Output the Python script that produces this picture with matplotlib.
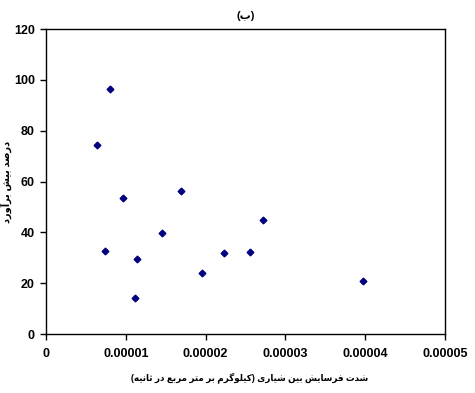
import matplotlib
matplotlib.use("Agg")
import matplotlib.pyplot as plt

# data
x_rate = [0.64e-5, 0.80e-5, 0.743e-5, 0.969e-5, 1.136e-5, 1.115e-5, 1.454e-5,
          1.69e-5, 1.95e-5, 2.23e-5, 2.55e-5, 2.72e-5, 3.97e-5]
y_over = [74.5, 96.3, 32.8, 53.5, 29.6, 14.0, 39.6,
          56.2, 24.1, 31.8, 32.4, 45.0, 20.9]

x_ticks = [0, 0.00001, 0.00002, 0.00003, 0.00004, 0.00005]
x_tick_labels = ["0", "0.00001", "0.00002", "0.00003", "0.00004", "0.00005"]
y_ticks = [0, 20, 40, 60, 80, 100, 120]

title_txt = "(ب)"
xlabel_txt = "شدت فرسایش بین شیاری (کیلوگرم بر متر مربع در ثانیه)"
ylabel_txt = "درصد بیش برآورد"

# matplotlib has no arabic shaping, so map letters to presentation forms
# (iso, fin, ini, med); right-joining letters only have iso/fin
FORMS = {
    "ا": ("\uFE8D", "\uFE8E"), "آ": ("\uFE81", "\uFE82"),
    "د": ("\uFEA9", "\uFEAA"), "ر": ("\uFEAD", "\uFEAE"),
    "و": ("\uFEED", "\uFEEE"),
    "ب": ("\uFE8F", "\uFE90", "\uFE91", "\uFE92"),
    "ت": ("\uFE95", "\uFE96", "\uFE97", "\uFE98"),
    "ث": ("\uFE99", "\uFE9A", "\uFE9B", "\uFE9C"),
    "س": ("\uFEB1", "\uFEB2", "\uFEB3", "\uFEB4"),
    "ش": ("\uFEB5", "\uFEB6", "\uFEB7", "\uFEB8"),
    "ص": ("\uFEB9", "\uFEBA", "\uFEBB", "\uFEBC"),
    "ع": ("\uFEC9", "\uFECA", "\uFECB", "\uFECC"),
    "ف": ("\uFED1", "\uFED2", "\uFED3", "\uFED4"),
    "ل": ("\uFEDD", "\uFEDE", "\uFEDF", "\uFEE0"),
    "م": ("\uFEE1", "\uFEE2", "\uFEE3", "\uFEE4"),
    "ن": ("\uFEE5", "\uFEE6", "\uFEE7", "\uFEE8"),
    "ه": ("\uFEE9", "\uFEEA", "\uFEEB", "\uFEEC"),
    "ی": ("\uFBFC", "\uFBFD", "\uFBFE", "\uFBFF"),
    "ک": ("\uFB8E", "\uFB8F", "\uFB90", "\uFB91"),
    "گ": ("\uFB92", "\uFB93", "\uFB94", "\uFB95"),
}


def shape(s):
    out = []
    for i, c in enumerate(s):
        if c not in FORMS:
            out.append(c)
            continue
        prev = s[i - 1] if i > 0 else ""
        nxt = s[i + 1] if i + 1 < len(s) else ""
        j_prev = prev in FORMS and len(FORMS[prev]) == 4
        j_next = len(FORMS[c]) == 4 and nxt in FORMS
        f = FORMS[c]
        if j_prev and j_next:
            out.append(f[3])
        elif j_prev:
            out.append(f[1])
        elif j_next:
            out.append(f[2])
        else:
            out.append(f[0])
    vis = "".join(out)[::-1]
    return vis.translate(str.maketrans("()", ")("))


fam = ["Liberation Sans", "DejaVu Sans"]

fig = plt.figure(figsize=(4.75, 3.93), dpi=100)
ax = fig.add_axes([0.097, 0.150, 0.840, 0.776])

ax.plot(x_rate, y_over, linestyle="none", marker="D", markersize=3.4,
        color="#000080")

ax.set_xlim(0, 0.00005)
ax.set_ylim(0, 120)
ax.set_xticks(x_ticks)
ax.set_xticklabels(x_tick_labels)
ax.set_yticks(y_ticks)
for lab in ax.get_xticklabels() + ax.get_yticklabels():
    lab.set_family(fam)
    lab.set_fontweight("bold")
    lab.set_fontsize(9)
ax.tick_params(direction="out", length=4, width=1, colors="black")
ax.tick_params(axis="x", pad=6)
ax.tick_params(axis="y", pad=4)

for sp in ax.spines.values():
    sp.set_linewidth(1)
    sp.set_color("black")

ax.set_title(shape(title_txt), family=fam, fontweight="bold", fontsize=8, pad=7)
ax.set_xlabel(shape(xlabel_txt), family=fam, fontweight="bold", fontsize=6.3)
ax.set_ylabel(shape(ylabel_txt), family=fam, fontweight="bold", fontsize=7)
ax.xaxis.set_label_coords(0.51, -0.125)
ax.yaxis.set_label_coords(-0.085, 0.5)

fig.savefig("out.png", dpi=100)
